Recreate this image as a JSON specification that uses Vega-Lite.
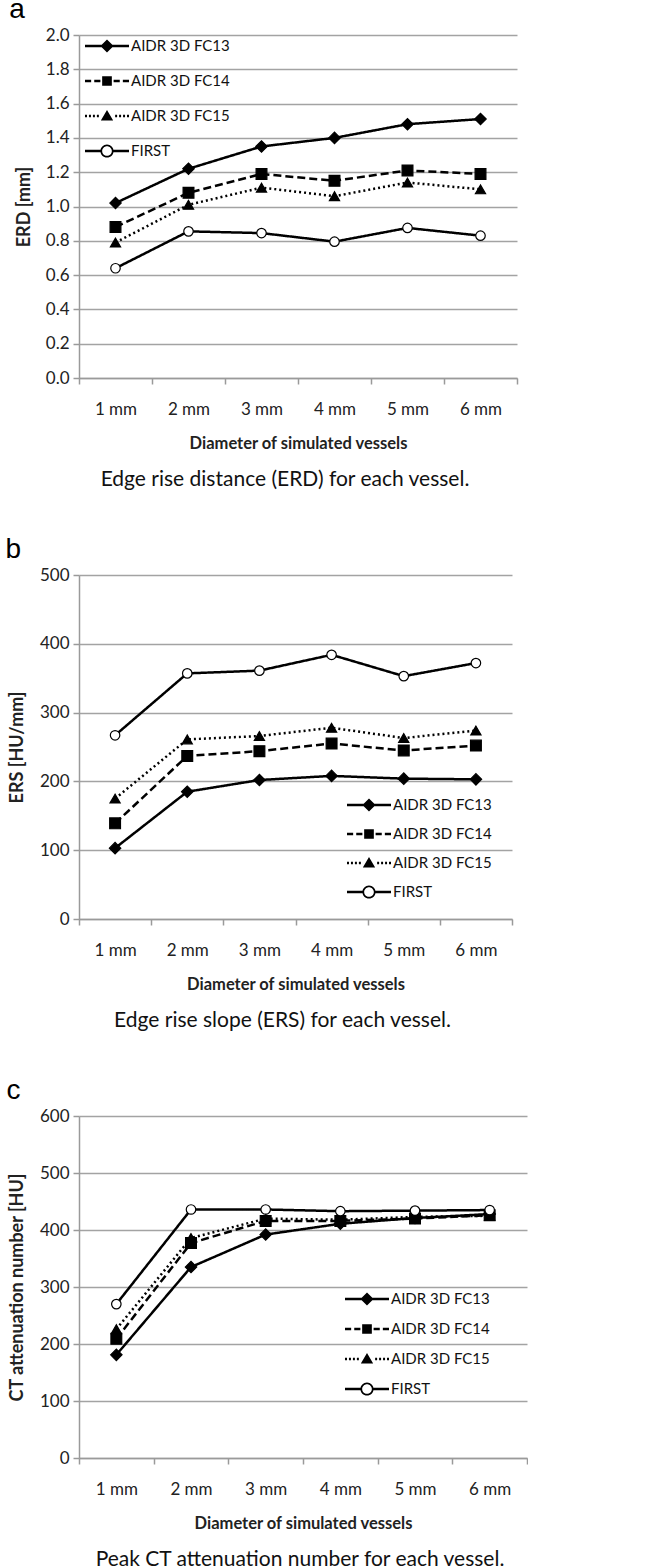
{
  "$schema": "https://vega.github.io/schema/vega-lite/v6.json",
  "background": "white",
  "padding": {"left": 5, "top": -4, "right": 0, "bottom": 0},
  "config": {
    "view": {"stroke": null},
    "axisX": {"domainColor": "#9a9a9a", "domainWidth": 1.5, "tickColor": "#9a9a9a", "tickWidth": 1.5, "tickSize": 6, "labelFont": "Lato", "labelFontSize": 17, "labelColor": "#222", "labelPadding": 17, "labelAngle": 0, "titleFont": "Lato", "titleFontSize": 16.5, "titleFontWeight": "bold", "titleColor": "#222", "titlePadding": 18, "grid": false, "tickBand": "extent"},
    "axisY": {"domainColor": "#9a9a9a", "domainWidth": 1.5, "tickColor": "#9a9a9a", "tickWidth": 1.5, "tickSize": 6, "gridColor": "#a3a3a3", "gridWidth": 1.5, "labelFont": "Lato", "labelFontSize": 17, "labelColor": "#222", "labelPadding": 4, "titleFont": "Lato", "titleFontSize": 18, "titleFontWeight": "bold", "titleColor": "#222"},
    "legend": {"labelFont": "Lato", "labelFontSize": 15, "labelColor": "#111", "labelOffset": 2, "symbolSize": 1936, "padding": 0, "symbolOpacity": 1, "symbolStrokeWidth": 0, "symbolFillColor": "black"}
  },
  "datasets": {
    "erd": [
      {"size": "1 mm", "series": "AIDR 3D FC13", "value": 1.02}, {"size": "2 mm", "series": "AIDR 3D FC13", "value": 1.22}, {"size": "3 mm", "series": "AIDR 3D FC13", "value": 1.35}, {"size": "4 mm", "series": "AIDR 3D FC13", "value": 1.40}, {"size": "5 mm", "series": "AIDR 3D FC13", "value": 1.48}, {"size": "6 mm", "series": "AIDR 3D FC13", "value": 1.51},
      {"size": "1 mm", "series": "AIDR 3D FC14", "value": 0.88}, {"size": "2 mm", "series": "AIDR 3D FC14", "value": 1.08}, {"size": "3 mm", "series": "AIDR 3D FC14", "value": 1.19}, {"size": "4 mm", "series": "AIDR 3D FC14", "value": 1.15}, {"size": "5 mm", "series": "AIDR 3D FC14", "value": 1.21}, {"size": "6 mm", "series": "AIDR 3D FC14", "value": 1.19},
      {"size": "1 mm", "series": "AIDR 3D FC15", "value": 0.79}, {"size": "2 mm", "series": "AIDR 3D FC15", "value": 1.01}, {"size": "3 mm", "series": "AIDR 3D FC15", "value": 1.11}, {"size": "4 mm", "series": "AIDR 3D FC15", "value": 1.06}, {"size": "5 mm", "series": "AIDR 3D FC15", "value": 1.14}, {"size": "6 mm", "series": "AIDR 3D FC15", "value": 1.10},
      {"size": "1 mm", "series": "FIRST", "value": 0.64}, {"size": "2 mm", "series": "FIRST", "value": 0.855}, {"size": "3 mm", "series": "FIRST", "value": 0.845}, {"size": "4 mm", "series": "FIRST", "value": 0.795}, {"size": "5 mm", "series": "FIRST", "value": 0.875}, {"size": "6 mm", "series": "FIRST", "value": 0.83}
    ],
    "ers": [
      {"size": "1 mm", "series": "AIDR 3D FC13", "value": 103}, {"size": "2 mm", "series": "AIDR 3D FC13", "value": 185}, {"size": "3 mm", "series": "AIDR 3D FC13", "value": 202}, {"size": "4 mm", "series": "AIDR 3D FC13", "value": 208}, {"size": "5 mm", "series": "AIDR 3D FC13", "value": 204}, {"size": "6 mm", "series": "AIDR 3D FC13", "value": 203},
      {"size": "1 mm", "series": "AIDR 3D FC14", "value": 139}, {"size": "2 mm", "series": "AIDR 3D FC14", "value": 237}, {"size": "3 mm", "series": "AIDR 3D FC14", "value": 244}, {"size": "4 mm", "series": "AIDR 3D FC14", "value": 255}, {"size": "5 mm", "series": "AIDR 3D FC14", "value": 245}, {"size": "6 mm", "series": "AIDR 3D FC14", "value": 252},
      {"size": "1 mm", "series": "AIDR 3D FC15", "value": 175}, {"size": "2 mm", "series": "AIDR 3D FC15", "value": 261}, {"size": "3 mm", "series": "AIDR 3D FC15", "value": 266}, {"size": "4 mm", "series": "AIDR 3D FC15", "value": 278}, {"size": "5 mm", "series": "AIDR 3D FC15", "value": 263}, {"size": "6 mm", "series": "AIDR 3D FC15", "value": 274},
      {"size": "1 mm", "series": "FIRST", "value": 267}, {"size": "2 mm", "series": "FIRST", "value": 357}, {"size": "3 mm", "series": "FIRST", "value": 361}, {"size": "4 mm", "series": "FIRST", "value": 384}, {"size": "5 mm", "series": "FIRST", "value": 353}, {"size": "6 mm", "series": "FIRST", "value": 372}
    ],
    "ct": [
      {"size": "1 mm", "series": "AIDR 3D FC13", "value": 181}, {"size": "2 mm", "series": "AIDR 3D FC13", "value": 335}, {"size": "3 mm", "series": "AIDR 3D FC13", "value": 392}, {"size": "4 mm", "series": "AIDR 3D FC13", "value": 411}, {"size": "5 mm", "series": "AIDR 3D FC13", "value": 421}, {"size": "6 mm", "series": "AIDR 3D FC13", "value": 428},
      {"size": "1 mm", "series": "AIDR 3D FC14", "value": 209}, {"size": "2 mm", "series": "AIDR 3D FC14", "value": 377}, {"size": "3 mm", "series": "AIDR 3D FC14", "value": 416}, {"size": "4 mm", "series": "AIDR 3D FC14", "value": 416}, {"size": "5 mm", "series": "AIDR 3D FC14", "value": 420}, {"size": "6 mm", "series": "AIDR 3D FC14", "value": 426},
      {"size": "1 mm", "series": "AIDR 3D FC15", "value": 226}, {"size": "2 mm", "series": "AIDR 3D FC15", "value": 386}, {"size": "3 mm", "series": "AIDR 3D FC15", "value": 420}, {"size": "4 mm", "series": "AIDR 3D FC15", "value": 418}, {"size": "5 mm", "series": "AIDR 3D FC15", "value": 423}, {"size": "6 mm", "series": "AIDR 3D FC15", "value": 425},
      {"size": "1 mm", "series": "FIRST", "value": 270}, {"size": "2 mm", "series": "FIRST", "value": 436}, {"size": "3 mm", "series": "FIRST", "value": 436}, {"size": "4 mm", "series": "FIRST", "value": 433}, {"size": "5 mm", "series": "FIRST", "value": 434}, {"size": "6 mm", "series": "FIRST", "value": 435}
    ]
  },
  "spacing": 46,
  "vconcat": [
    {
      "title": {"text": "a", "anchor": "start", "frame": "bounds", "font": "Liberation Sans", "fontSize": 28, "fontWeight": "normal", "color": "black", "offset": 2, "dx": -6},
      "vconcat": [
        {
          "data": {"name": "erd"},
          "width": 438, "height": 343,
          "title": {"text": "Edge rise distance (ERD) for each vessel.", "orient": "bottom", "font": "Lato", "fontSize": 21, "fontWeight": "normal", "color": "#111", "anchor": "middle", "offset": 17, "dx": -13},
          "encoding": {
            "x": {"field": "size", "type": "ordinal", "sort": ["1 mm", "2 mm", "3 mm", "4 mm", "5 mm", "6 mm"], "scale": {"type": "band", "paddingInner": 0, "paddingOuter": 0}, "axis": {"title": "Diameter of simulated vessels"}},
            "y": {"field": "value", "type": "quantitative", "scale": {"domain": [0, 2]}, "axis": {"values": [0, 0.2, 0.4, 0.6, 0.8, 1.0, 1.2, 1.4, 1.6, 1.8, 2.0], "format": ".1f", "title": "ERD [mm]", "titlePadding": 12}}
          },
          "resolve": {"scale": {"shape": "independent"}},
          "layer": [
            {"mark": {"type": "line", "strokeWidth": 2.5, "color": "black"}, "encoding": {"detail": {"field": "series"}, "strokeDash": {"field": "series", "scale": {"domain": ["AIDR 3D FC13", "AIDR 3D FC14", "AIDR 3D FC15", "FIRST"], "range": [[1, 0], [8, 4], [2, 3], [1, 0]]}, "legend": null}}},
            {"mark": {"type": "point", "filled": true, "stroke": "black", "strokeWidth": 1.2, "opacity": 1},
             "encoding": {
               "shape": {"field": "series", "scale": {"domain": ["AIDR 3D FC13", "AIDR 3D FC14", "AIDR 3D FC15", "FIRST"], "range": ["diamond", "square", "triangle-up", "circle"]}, "legend": null},
               "fill": {"field": "series", "scale": {"domain": ["AIDR 3D FC13", "AIDR 3D FC14", "AIDR 3D FC15", "FIRST"], "range": ["black", "black", "black", "white"]}, "legend": null},
               "size": {"field": "series", "scale": {"domain": ["AIDR 3D FC13", "AIDR 3D FC14", "AIDR 3D FC15", "FIRST"], "range": [130, 90, 130, 150]}, "legend": null}
             }},
            {"mark": {"type": "point", "filled": true, "color": "black", "opacity": 0, "size": 0, "strokeWidth": 0},
             "encoding": {
               "shape": {"field": "series", "scale": {"domain": ["AIDR 3D FC13", "AIDR 3D FC14", "AIDR 3D FC15", "FIRST"], "range": [
                 "M-1,-0.055L1,-0.055L1,0.055L-1,0.055ZM0,-0.3L0.3,0L0,0.3L-0.3,0Z",
                 "M-1,-0.055L-0.72,-0.055L-0.72,0.055L-1,0.055ZM-0.58,-0.055L-0.3,-0.055L-0.3,0.055L-0.58,0.055ZM-0.22,-0.22L0.22,-0.22L0.22,0.22L-0.22,0.22ZM0.3,-0.055L0.58,-0.055L0.58,0.055L0.3,0.055ZM0.72,-0.055L1,-0.055L1,0.055L0.72,0.055Z",
                 "M-1,-0.055L-0.91,-0.055L-0.91,0.055L-1,0.055ZM-0.82,-0.055L-0.73,-0.055L-0.73,0.055L-0.82,0.055ZM-0.64,-0.055L-0.55,-0.055L-0.55,0.055L-0.64,0.055ZM-0.46,-0.055L-0.37,-0.055L-0.37,0.055L-0.46,0.055ZM0,-0.27L0.28,0.2L-0.28,0.2ZM0.37,-0.055L0.46,-0.055L0.46,0.055L0.37,0.055ZM0.55,-0.055L0.64,-0.055L0.64,0.055L0.55,0.055ZM0.73,-0.055L0.82,-0.055L0.82,0.055L0.73,0.055ZM0.91,-0.055L1,-0.055L1,0.055L0.91,0.055Z",
                 "M-1,-0.055L-0.29,-0.055L-0.29,0.055L-1,0.055ZM0.29,-0.055L1,-0.055L1,0.055L0.29,0.055ZM0.3,0A0.3,0.3,0,1,1,-0.3,0A0.3,0.3,0,1,1,0.3,0ZM0.22,0A0.22,0.22,0,1,0,-0.22,0A0.22,0.22,0,1,0,0.22,0Z"
               ]},
                 "legend": {"title": null, "orient": "none", "legendX": 6, "legendY": 1, "rowPadding": 15, "clipHeight": 20}}
             }}
          ]
        }
      ]
    },
    {
      "title": {"text": "b", "anchor": "start", "frame": "bounds", "font": "Liberation Sans", "fontSize": 28, "fontWeight": "normal", "color": "black", "offset": 2, "dx": -3},
      "vconcat": [
        {
          "data": {"name": "ers"},
          "width": 433, "height": 344,
          "title": {"text": "Edge rise slope (ERS) for each vessel.", "orient": "bottom", "font": "Lato", "fontSize": 21, "fontWeight": "normal", "color": "#111", "anchor": "middle", "offset": 17, "dx": -13},
          "encoding": {
            "x": {"field": "size", "type": "ordinal", "sort": ["1 mm", "2 mm", "3 mm", "4 mm", "5 mm", "6 mm"], "scale": {"type": "band", "paddingInner": 0, "paddingOuter": 0}, "axis": {"title": "Diameter of simulated vessels"}},
            "y": {"field": "value", "type": "quantitative", "scale": {"domain": [0, 500]}, "axis": {"values": [0, 100, 200, 300, 400, 500], "title": "ERS [HU/mm]", "titlePadding": 13}}
          },
          "resolve": {"scale": {"shape": "independent"}},
          "layer": [
            {"mark": {"type": "line", "strokeWidth": 2.5, "color": "black"}, "encoding": {"detail": {"field": "series"}, "strokeDash": {"field": "series", "scale": {"domain": ["AIDR 3D FC13", "AIDR 3D FC14", "AIDR 3D FC15", "FIRST"], "range": [[1, 0], [8, 4], [2, 3], [1, 0]]}, "legend": null}}},
            {"mark": {"type": "point", "filled": true, "stroke": "black", "strokeWidth": 1.2, "opacity": 1},
             "encoding": {
               "shape": {"field": "series", "scale": {"domain": ["AIDR 3D FC13", "AIDR 3D FC14", "AIDR 3D FC15", "FIRST"], "range": ["diamond", "square", "triangle-up", "circle"]}, "legend": null},
               "fill": {"field": "series", "scale": {"domain": ["AIDR 3D FC13", "AIDR 3D FC14", "AIDR 3D FC15", "FIRST"], "range": ["black", "black", "black", "white"]}, "legend": null},
               "size": {"field": "series", "scale": {"domain": ["AIDR 3D FC13", "AIDR 3D FC14", "AIDR 3D FC15", "FIRST"], "range": [130, 90, 130, 150]}, "legend": null}
             }},
            {"mark": {"type": "point", "filled": true, "color": "black", "opacity": 0, "size": 0, "strokeWidth": 0},
             "encoding": {
               "shape": {"field": "series", "scale": {"domain": ["AIDR 3D FC13", "AIDR 3D FC14", "AIDR 3D FC15", "FIRST"], "range": [
                 "M-1,-0.055L1,-0.055L1,0.055L-1,0.055ZM0,-0.3L0.3,0L0,0.3L-0.3,0Z",
                 "M-1,-0.055L-0.72,-0.055L-0.72,0.055L-1,0.055ZM-0.58,-0.055L-0.3,-0.055L-0.3,0.055L-0.58,0.055ZM-0.22,-0.22L0.22,-0.22L0.22,0.22L-0.22,0.22ZM0.3,-0.055L0.58,-0.055L0.58,0.055L0.3,0.055ZM0.72,-0.055L1,-0.055L1,0.055L0.72,0.055Z",
                 "M-1,-0.055L-0.91,-0.055L-0.91,0.055L-1,0.055ZM-0.82,-0.055L-0.73,-0.055L-0.73,0.055L-0.82,0.055ZM-0.64,-0.055L-0.55,-0.055L-0.55,0.055L-0.64,0.055ZM-0.46,-0.055L-0.37,-0.055L-0.37,0.055L-0.46,0.055ZM0,-0.27L0.28,0.2L-0.28,0.2ZM0.37,-0.055L0.46,-0.055L0.46,0.055L0.37,0.055ZM0.55,-0.055L0.64,-0.055L0.64,0.055L0.55,0.055ZM0.73,-0.055L0.82,-0.055L0.82,0.055L0.73,0.055ZM0.91,-0.055L1,-0.055L1,0.055L0.91,0.055Z",
                 "M-1,-0.055L-0.29,-0.055L-0.29,0.055L-1,0.055ZM0.29,-0.055L1,-0.055L1,0.055L0.29,0.055ZM0.3,0A0.3,0.3,0,1,1,-0.3,0A0.3,0.3,0,1,1,0.3,0ZM0.22,0A0.22,0.22,0,1,0,-0.22,0A0.22,0.22,0,1,0,0.22,0Z"
               ]},
                 "legend": {"title": null, "orient": "none", "legendX": 268, "legendY": 220, "rowPadding": 9, "clipHeight": 20}}
             }}
          ]
        }
      ]
    },
    {
      "title": {"text": "c", "anchor": "start", "frame": "bounds", "font": "Liberation Sans", "fontSize": 28, "fontWeight": "normal", "color": "black", "offset": 2, "dx": -2},
      "vconcat": [
        {
          "data": {"name": "ct"},
          "width": 448, "height": 342,
          "title": {"text": "Peak CT attenuation number for each vessel.", "orient": "bottom", "font": "Lato", "fontSize": 21, "fontWeight": "normal", "color": "#111", "anchor": "middle", "offset": 17, "dx": -3},
          "encoding": {
            "x": {"field": "size", "type": "ordinal", "sort": ["1 mm", "2 mm", "3 mm", "4 mm", "5 mm", "6 mm"], "scale": {"type": "band", "paddingInner": 0, "paddingOuter": 0}, "axis": {"title": "Diameter of simulated vessels"}},
            "y": {"field": "value", "type": "quantitative", "scale": {"domain": [0, 600]}, "axis": {"values": [0, 100, 200, 300, 400, 500, 600], "title": "CT attenuation number [HU]", "titlePadding": 13}}
          },
          "resolve": {"scale": {"shape": "independent"}},
          "layer": [
            {"mark": {"type": "line", "strokeWidth": 2.5, "color": "black"}, "encoding": {"detail": {"field": "series"}, "strokeDash": {"field": "series", "scale": {"domain": ["AIDR 3D FC13", "AIDR 3D FC14", "AIDR 3D FC15", "FIRST"], "range": [[1, 0], [8, 4], [2, 3], [1, 0]]}, "legend": null}}},
            {"mark": {"type": "point", "filled": true, "stroke": "black", "strokeWidth": 1.2, "opacity": 1},
             "encoding": {
               "shape": {"field": "series", "scale": {"domain": ["AIDR 3D FC13", "AIDR 3D FC14", "AIDR 3D FC15", "FIRST"], "range": ["diamond", "square", "triangle-up", "circle"]}, "legend": null},
               "fill": {"field": "series", "scale": {"domain": ["AIDR 3D FC13", "AIDR 3D FC14", "AIDR 3D FC15", "FIRST"], "range": ["black", "black", "black", "white"]}, "legend": null},
               "size": {"field": "series", "scale": {"domain": ["AIDR 3D FC13", "AIDR 3D FC14", "AIDR 3D FC15", "FIRST"], "range": [130, 90, 130, 150]}, "legend": null}
             }},
            {"mark": {"type": "point", "filled": true, "color": "black", "opacity": 0, "size": 0, "strokeWidth": 0},
             "encoding": {
               "shape": {"field": "series", "scale": {"domain": ["AIDR 3D FC13", "AIDR 3D FC14", "AIDR 3D FC15", "FIRST"], "range": [
                 "M-1,-0.055L1,-0.055L1,0.055L-1,0.055ZM0,-0.3L0.3,0L0,0.3L-0.3,0Z",
                 "M-1,-0.055L-0.72,-0.055L-0.72,0.055L-1,0.055ZM-0.58,-0.055L-0.3,-0.055L-0.3,0.055L-0.58,0.055ZM-0.22,-0.22L0.22,-0.22L0.22,0.22L-0.22,0.22ZM0.3,-0.055L0.58,-0.055L0.58,0.055L0.3,0.055ZM0.72,-0.055L1,-0.055L1,0.055L0.72,0.055Z",
                 "M-1,-0.055L-0.91,-0.055L-0.91,0.055L-1,0.055ZM-0.82,-0.055L-0.73,-0.055L-0.73,0.055L-0.82,0.055ZM-0.64,-0.055L-0.55,-0.055L-0.55,0.055L-0.64,0.055ZM-0.46,-0.055L-0.37,-0.055L-0.37,0.055L-0.46,0.055ZM0,-0.27L0.28,0.2L-0.28,0.2ZM0.37,-0.055L0.46,-0.055L0.46,0.055L0.37,0.055ZM0.55,-0.055L0.64,-0.055L0.64,0.055L0.55,0.055ZM0.73,-0.055L0.82,-0.055L0.82,0.055L0.73,0.055ZM0.91,-0.055L1,-0.055L1,0.055L0.91,0.055Z",
                 "M-1,-0.055L-0.29,-0.055L-0.29,0.055L-1,0.055ZM0.29,-0.055L1,-0.055L1,0.055L0.29,0.055ZM0.3,0A0.3,0.3,0,1,1,-0.3,0A0.3,0.3,0,1,1,0.3,0ZM0.22,0A0.22,0.22,0,1,0,-0.22,0A0.22,0.22,0,1,0,0.22,0Z"
               ]},
                 "legend": {"title": null, "orient": "none", "legendX": 266, "legendY": 173, "rowPadding": 10, "clipHeight": 20}}
             }}
          ]
        }
      ]
    }
  ]
}
